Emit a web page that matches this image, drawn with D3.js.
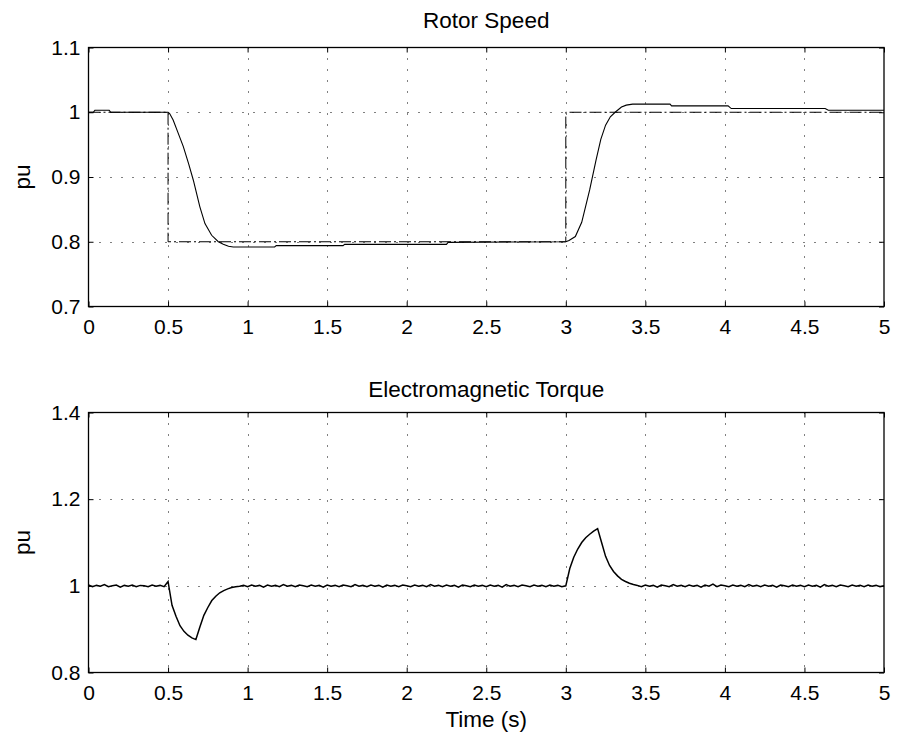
<!DOCTYPE html>
<html>
<head>
<meta charset="utf-8">
<script src="https://cdn.jsdelivr.net/npm/d3@7"></script>
<style>
  html, body { margin: 0; padding: 0; background: #fff; }
  svg { display: block; font-family: "Liberation Sans", Arial, Helvetica, sans-serif; }
  .tick text { font-size: 21px; fill: #000; }
  .title, .axis-label { font-size: 22.5px; fill: #000; }
</style>
</head>
<body>
<div id="chart"></div>
<script>
// ---------- Data ----------
const xTicks = [0, 0.5, 1, 1.5, 2, 2.5, 3, 3.5, 4, 4.5, 5]
const speedTicks = [0.7, 0.8, 0.9, 1, 1.1]
const torqueTicks = [0.8, 1, 1.2, 1.4]

// Rotor speed reference (dash-dot)
const refTime = [0, 0.5, 0.5, 3, 3, 5]
const refSpeed = [1, 1, 0.8, 0.8, 1, 1]

// Measured rotor speed (solid)
const speedTime = [0, 0.03, 0.04, 0.13, 0.14, 0.5, 0.51, 0.532, 0.56, 0.596, 0.63, 0.659, 0.7, 0.732,
  0.774, 0.816, 0.847, 0.88, 0.91, 1.17, 1.18, 1.6, 1.61, 2.25, 2.26, 3.0, 3.02, 3.06, 3.1, 3.15,
  3.19, 3.22, 3.25, 3.28, 3.31, 3.35, 3.38, 3.42, 3.655, 3.665, 4.02, 4.04, 4.63, 4.65, 5]
const speedValue = [1.0, 1.0, 1.003, 1.003, 1.0, 1.0, 0.998, 0.988, 0.97, 0.947, 0.92, 0.895, 0.854, 0.828,
  0.81, 0.8, 0.796, 0.793, 0.792, 0.792, 0.794, 0.794, 0.796, 0.796, 0.799, 0.8, 0.802, 0.808, 0.83, 0.88,
  0.926, 0.958, 0.98, 0.993, 1.0, 1.008, 1.011, 1.0125, 1.0125, 1.0098, 1.0098, 1.0057, 1.0057, 1.0032, 1.0032]

// Electromagnetic torque, sampled every 0.025 s
const torqueDt = 0.025
const torqueValue = [
  1.002, 0.998, 1.001, 0.999, 1.003, 0.998, 1.000, 1.002, 0.997, 1.001,
  0.999, 1.002, 0.998, 1.001, 1.000, 0.998, 1.002, 0.999, 1.001, 0.998,
  1.010, 0.955, 0.930, 0.908, 0.895, 0.886, 0.880, 0.876, 0.905, 0.932,
  0.950, 0.966, 0.976, 0.984, 0.989, 0.993, 0.996, 0.998, 0.999, 1.001,
  0.998, 1.002, 0.999, 1.001, 0.997, 1.002, 0.999, 1.001, 0.998, 1.003,
  0.999, 1.001, 0.998, 1.002, 1.000, 0.998, 1.002, 0.999, 1.001, 0.997,
  1.002, 0.999, 1.001, 0.998, 1.002, 1.000, 0.998, 1.003, 0.999, 1.001,
  0.998, 1.002, 0.999, 1.001, 0.997, 1.002, 0.999, 1.001, 0.998, 1.002,
  1.000, 0.998, 1.002, 0.999, 1.001, 0.998, 1.003, 0.999, 1.001, 0.998,
  1.002, 0.999, 1.001, 0.997, 1.002, 1.000, 0.998, 1.002, 0.999, 1.001,
  0.998, 1.002, 0.999, 1.001, 0.997, 1.003, 0.999, 1.001, 0.998, 1.002,
  1.000, 0.998, 1.002, 0.999, 1.001, 0.998, 1.002, 0.999, 1.001, 0.998,
  1.000, 1.040, 1.066, 1.085, 1.100, 1.111, 1.119, 1.126, 1.132, 1.100,
  1.068, 1.047, 1.033, 1.023, 1.015, 1.010, 1.006, 1.003, 1.001, 0.998,
  1.002, 0.999, 1.001, 0.997, 1.002, 1.000, 0.998, 1.003, 0.999, 1.001,
  0.998, 1.002, 0.999, 1.001, 0.997, 1.002, 0.999, 1.004, 0.998, 1.002,
  1.000, 0.998, 1.002, 0.999, 1.001, 0.998, 1.003, 0.999, 1.001, 0.998,
  1.002, 0.999, 1.001, 0.997, 1.002, 1.000, 0.998, 1.002, 0.999, 1.001,
  0.998, 1.002, 0.999, 1.001, 0.997, 1.003, 0.999, 1.001, 0.998, 1.002,
  1.000, 0.998, 1.002, 0.999, 1.001, 0.998, 1.002, 0.999, 1.001, 0.998,
  1.000
]

// ---------- Layout ----------
const width = 899
const height = 738
const left = 88.5
const right = 884
const panels = [
  { top: 47.5, bottom: 306.5, titleY: 27.5, domain: [0.7, 1.1], ticks: speedTicks, title: 'Rotor Speed' },
  { top: 412.5, bottom: 672.5, titleY: 396.5, domain: [0.8, 1.4], ticks: torqueTicks, title: 'Electromagnetic Torque' }
]

const svg = d3.select('#chart')
  .append('svg')
  .attr('width', width)
  .attr('height', height)

const x = d3.scaleLinear().domain([0, 5]).range([left, right])

function drawPanel (p) {
  const y = d3.scaleLinear().domain(p.domain).range([p.bottom, p.top])
  const g = svg.append('g')

  // dotted grid
  g.append('g')
    .selectAll('line')
    .data(xTicks.slice(1, -1))
    .join('line')
    .attr('x1', d => Math.round(x(d)) + 0.5)
    .attr('x2', d => Math.round(x(d)) + 0.5)
    .attr('y1', p.top)
    .attr('y2', p.bottom)
    .attr('stroke', '#000')
    .attr('stroke-width', 1)
    .attr('stroke-dasharray', '1,10')
  g.append('g')
    .selectAll('line')
    .data(p.ticks.slice(1, -1))
    .join('line')
    .attr('x1', left)
    .attr('x2', right)
    .attr('y1', d => Math.round(y(d)) + 0.5)
    .attr('y2', d => Math.round(y(d)) + 0.5)
    .attr('stroke', '#000')
    .attr('stroke-width', 1)
    .attr('stroke-dasharray', '1,10')

  // axes with inward ticks on all four sides
  const bottomAxis = g.append('g')
    .attr('transform', `translate(0,${p.bottom})`)
    .call(d3.axisBottom(x).tickValues(xTicks).tickSize(-5).tickPadding(13).tickFormat(d => String(d)))
  const topAxis = g.append('g')
    .attr('transform', `translate(0,${p.top})`)
    .call(d3.axisTop(x).tickValues(xTicks).tickSize(-5).tickFormat(''))
  const leftAxis = g.append('g')
    .attr('transform', `translate(${left},0)`)
    .call(d3.axisLeft(y).tickValues(p.ticks).tickSize(-5).tickPadding(8).tickFormat(d => String(d)))
  const rightAxis = g.append('g')
    .attr('transform', `translate(${right},0)`)
    .call(d3.axisRight(y).tickValues(p.ticks).tickSize(-5).tickFormat(''))
  ;[bottomAxis, topAxis, leftAxis, rightAxis].forEach(ax => {
    ax.select('.domain').remove()
    ax.selectAll('.tick line').attr('stroke', '#000')
    ax.attr('font-size', null).attr('font-family', null)
  })

  g.append('rect')
    .attr('x', left)
    .attr('y', p.top)
    .attr('width', right - left)
    .attr('height', p.bottom - p.top)
    .attr('fill', 'none')
    .attr('stroke', '#000')
    .attr('stroke-width', 1.3)

  g.append('text')
    .attr('class', 'title')
    .attr('x', (left + right) / 2)
    .attr('y', p.titleY)
    .attr('text-anchor', 'middle')
    .text(p.title)

  g.append('text')
    .attr('class', 'axis-label')
    .attr('transform', `translate(30,${(p.top + p.bottom) / 2}) rotate(-90)`)
    .attr('text-anchor', 'middle')
    .text('pu')

  return y
}

const ySpeed = drawPanel(panels[0])
const yTorque = drawPanel(panels[1])

// ---------- Curves ----------
const speedLine = d3.line().x(d => x(d[0])).y(d => ySpeed(d[1]))
svg.append('path')
  .datum(refTime.map((t, i) => [t, refSpeed[i]]))
  .attr('d', speedLine)
  .attr('fill', 'none')
  .attr('stroke', '#000')
  .attr('stroke-width', 1)
  .attr('stroke-dasharray', '12,3,2,3')

svg.append('path')
  .datum(speedTime.map((t, i) => [t, speedValue[i]]))
  .attr('d', speedLine)
  .attr('fill', 'none')
  .attr('stroke', '#000')
  .attr('stroke-width', 1.1)

const torqueLine = d3.line()
  .x(d => x(d[0]))
  .y(d => yTorque(d[1]))
svg.append('path')
  .datum(torqueValue.map((v, i) => [i * torqueDt, v]))
  .attr('d', torqueLine)
  .attr('fill', 'none')
  .attr('stroke', '#000')
  .attr('stroke-width', 1.5)

svg.append('text')
  .attr('class', 'axis-label')
  .attr('x', (left + right) / 2)
  .attr('y', 727)
  .attr('text-anchor', 'middle')
  .text('Time (s)')
</script>
</body>
</html>
